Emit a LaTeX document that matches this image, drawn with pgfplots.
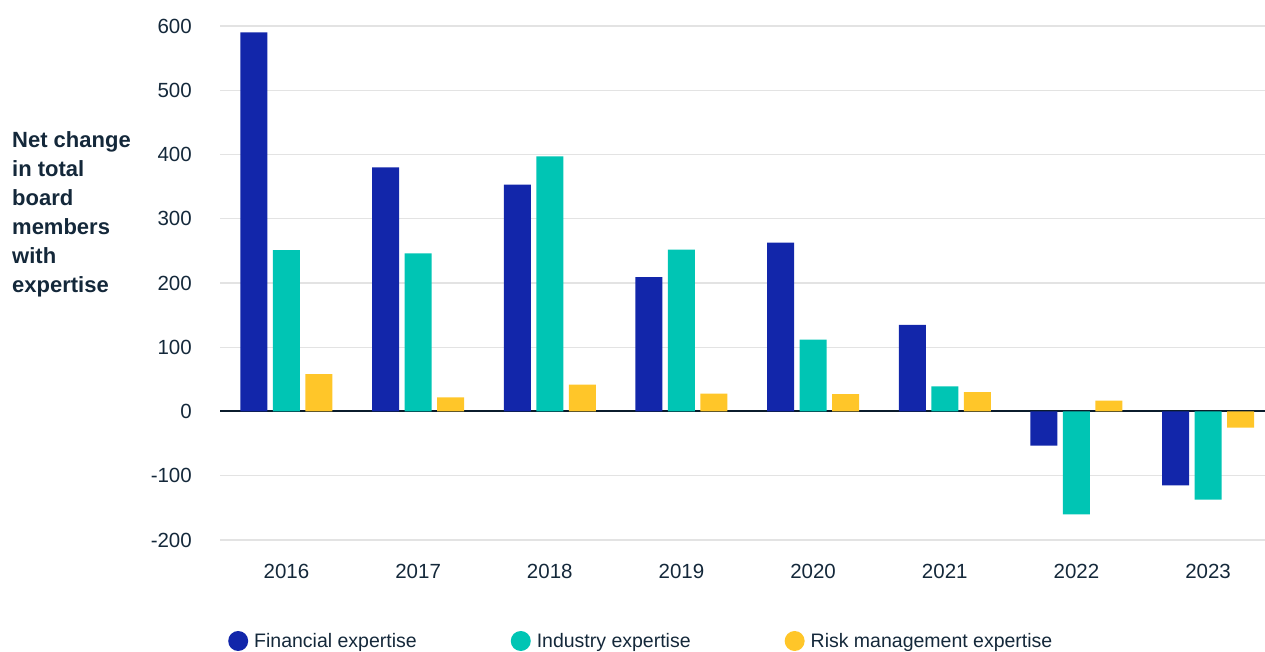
\documentclass[border=0pt]{standalone}
\usepackage{pgfplots}
\pgfplotsset{compat=1.18}
\usepackage{fontspec}
\setmainfont{Liberation Sans}
\definecolor{finblue}{HTML}{1226AA}
\definecolor{indteal}{HTML}{00C5B4}
\definecolor{riskyel}{HTML}{FFC629}
\definecolor{txt}{HTML}{14283A}
\definecolor{gridc}{HTML}{E3E3E3}
\definecolor{zeroc}{HTML}{0B1C2C}
\begin{document}
\begin{tikzpicture}
\path[use as bounding box] (0,0) rectangle (1265pt,652pt);
\begin{axis}[
  at={(220pt,112pt)}, anchor=south west,
  scale only axis, width=1045pt, height=514pt,
  ybar=5.5pt, bar width=27pt,
  xmin=-0.505, xmax=7.433, ymin=-200, ymax=600,
  xtick=data, xticklabels={2016,2017,2018,2019,2020,2021,2022,2023},
  ytick={-200,-100,100,200,300,400,500,600},
  yticklabels={-200,-100,100,200,300,400,500,600},
  extra y ticks={0}, extra y tick labels={0},
  extra y tick style={grid style={draw=zeroc, line width=2pt}},
  ymajorgrids, grid style={draw=gridc, line width=1.3pt},
  axis line style={draw=none}, major tick length=0pt,
  tick style={draw=none},
  /pgf/number format/assume math mode=true,
  ticklabel style={font=\fontsize{20.5}{24}\selectfont, text=txt},
  yticklabel style={inner sep=0pt, xshift=-28pt},
  xticklabel style={inner sep=0pt, yshift=-24pt},
  legend columns=3,
  legend image code/.code={\fill (10pt,0pt) circle (10pt);},
  legend style={at={(rel axis cs:0,0)}, anchor=west, xshift=8pt, yshift=-101pt,
    draw=none, fill=none, inner sep=0pt,
    font=\fontsize{19.5}{23}\selectfont, text=txt,
    nodes={inner xsep=6pt, inner ysep=0pt},
    /tikz/every even column/.append style={column sep=88pt}},
]
\addplot[fill=finblue, draw=none] coordinates {(0,590) (1,380) (2,353) (3,209) (4,263) (5,135) (6,-53) (7,-115)};
\addplot[fill=indteal, draw=none] coordinates {(0,251) (1,246) (2,397) (3,252) (4,112) (5,39) (6,-160) (7,-137)};
\addplot[fill=riskyel, draw=none] coordinates {(0,58) (1,22) (2,42) (3,28) (4,27) (5,30) (6,17) (7,-25)};
\legend{Financial expertise, Industry expertise, Risk management expertise}
\end{axis}
\node[anchor=west, align=left, text=txt, font=\bfseries\fontsize{22}{29}\selectfont, inner sep=0pt] at (12pt,438pt) {Net change\\in total\\board\\members\\with\\expertise};
\end{tikzpicture}
\end{document}
